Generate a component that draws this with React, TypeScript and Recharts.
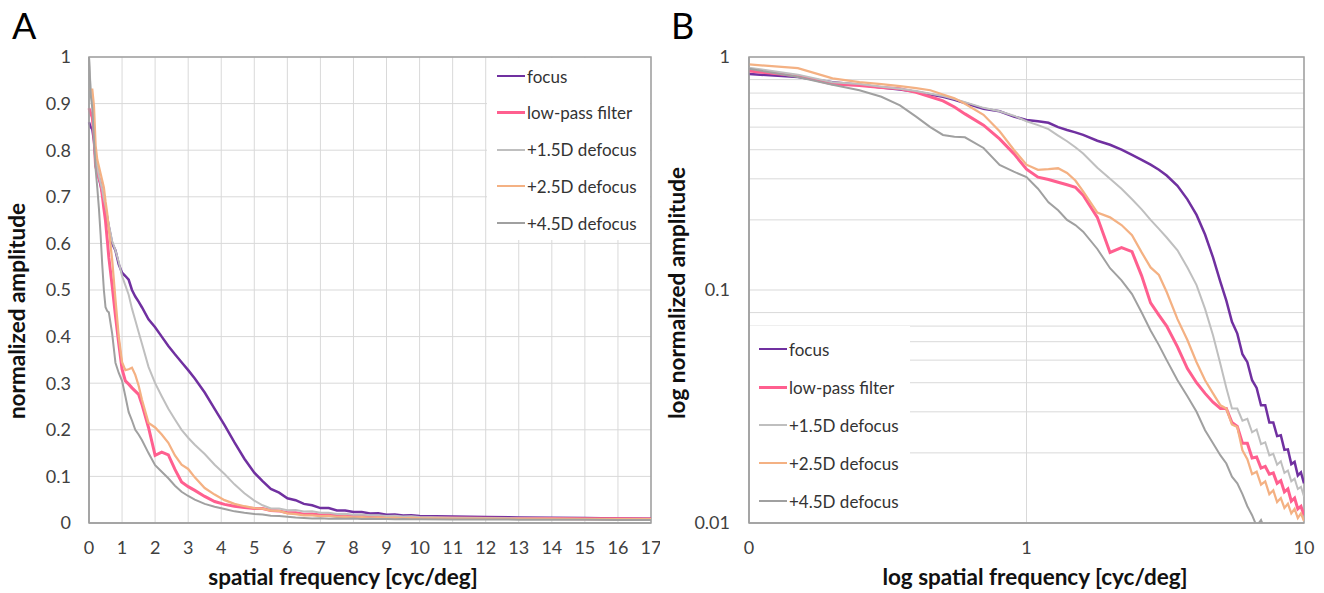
import {
  CartesianGrid,
  Legend,
  Line,
  LineChart,
  ReferenceArea,
  XAxis,
  YAxis,
} from "recharts";

const FONT = "Lato, 'Open Sans', sans-serif";
const TICK = "#404040";
const GRID = "#D9D9D9";
const BORDER = "#A0A0A0";

// spatial frequency [cyc/deg]
const FREQ = [
  0, 0.05, 0.1, 0.15, 0.2, 0.25, 0.3, 0.35, 0.4, 0.45, 0.5, 0.55, 0.6,
  0.7, 0.8, 0.9, 1,
  1.1, 1.2, 1.3, 1.4, 1.5, 1.6,
  1.8, 2, 2.2, 2.4, 2.6, 2.8, 3, 3.2,
  3.5, 3.8, 4.1, 4.4, 4.7, 5,
  5.25, 5.5, 5.75, 6, 6.25, 6.5, 6.75, 7, 7.25, 7.5, 7.75, 8, 8.25, 8.5, 8.75, 9, 9.25, 9.5, 9.75, 10,
  11, 12, 13, 14, 15, 16, 17,
];

const FOCUS = [
  0.86, 0.85, 0.845, 0.82, 0.78, 0.76, 0.74, 0.725, 0.71, 0.69, 0.675, 0.655, 0.635,
  0.6, 0.585, 0.555, 0.537,
  0.53, 0.522, 0.5, 0.486, 0.475, 0.463,
  0.437, 0.42, 0.4, 0.38, 0.362, 0.345, 0.328, 0.31,
  0.28, 0.245, 0.21, 0.173, 0.138, 0.108,
  0.09, 0.073, 0.065, 0.053, 0.049, 0.041, 0.038, 0.032, 0.032, 0.027, 0.027, 0.0236, 0.0238, 0.0206, 0.0207, 0.0179, 0.0183, 0.016, 0.0165, 0.0148,
  0.014, 0.0128, 0.012, 0.0112, 0.0105, 0.0098, 0.0092,
];

const LOW_PASS = [
  0.89, 0.88, 0.87, 0.83, 0.765, 0.755, 0.74, 0.73, 0.705, 0.675, 0.648, 0.61, 0.57,
  0.51, 0.445, 0.385, 0.33,
  0.305, 0.298, 0.29, 0.283, 0.276, 0.255,
  0.205, 0.145, 0.152, 0.146, 0.115, 0.088, 0.078, 0.07,
  0.057, 0.046, 0.04, 0.036, 0.033, 0.031,
  0.031, 0.027, 0.026, 0.022, 0.022, 0.019, 0.0192, 0.0172, 0.0175, 0.0162, 0.0164, 0.0148, 0.0152, 0.0136, 0.014, 0.0124, 0.0128, 0.0115, 0.0118, 0.0108,
  0.0105, 0.0101, 0.0098, 0.0095, 0.0092, 0.009, 0.0088,
];

const DEFOCUS_15 = [
  1.0, 0.93, 0.9, 0.84, 0.78, 0.765, 0.745, 0.73, 0.715, 0.695, 0.68, 0.66, 0.64,
  0.605, 0.585, 0.56, 0.53,
  0.51, 0.49, 0.46, 0.435, 0.41, 0.385,
  0.335, 0.3, 0.272, 0.245, 0.222, 0.2, 0.183, 0.168,
  0.148, 0.125, 0.105, 0.083, 0.064, 0.048,
  0.038, 0.031, 0.031, 0.0275, 0.028, 0.0245, 0.0252, 0.0218, 0.0222, 0.0195, 0.0198, 0.0178, 0.0184, 0.0164, 0.0168, 0.0151, 0.0155, 0.014, 0.0143, 0.013,
  0.0115, 0.0105, 0.0098, 0.0093, 0.0088, 0.0085, 0.0082,
];

const DEFOCUS_25 = [
  0.93, 0.93, 0.93, 0.895, 0.81, 0.78, 0.765, 0.75, 0.735, 0.72, 0.69, 0.665, 0.63,
  0.565, 0.48, 0.4, 0.345,
  0.328, 0.33, 0.333, 0.318, 0.295, 0.265,
  0.215, 0.205, 0.19, 0.172, 0.145, 0.125, 0.116, 0.098,
  0.075, 0.061, 0.049, 0.041, 0.036, 0.032,
  0.031, 0.0265, 0.0258, 0.0205, 0.0188, 0.0162, 0.0166, 0.0146, 0.0151, 0.0133, 0.0138, 0.0123, 0.0128, 0.0116, 0.0121, 0.011, 0.0115, 0.0105, 0.011, 0.0102,
  0.0095, 0.0092, 0.009, 0.0088, 0.0086, 0.0085, 0.0083,
];

const DEFOCUS_45 = [
  1.0, 0.92, 0.89, 0.82, 0.76, 0.72, 0.675, 0.62, 0.555, 0.5, 0.463, 0.455, 0.452,
  0.407, 0.344, 0.322, 0.305,
  0.272, 0.238, 0.22, 0.2, 0.19, 0.178,
  0.15, 0.124, 0.11, 0.096, 0.08, 0.067, 0.058, 0.05,
  0.041, 0.035, 0.03, 0.025, 0.022, 0.0195,
  0.018, 0.0158, 0.0148, 0.0133, 0.0118, 0.0108, 0.0097, 0.0103, 0.0093, 0.0099, 0.009, 0.0096, 0.0087, 0.0093, 0.0085, 0.0088, 0.0082, 0.0085, 0.008, 0.0081,
  0.0076, 0.0074, 0.0072, 0.007, 0.0068, 0.0067, 0.0065,
];

const SERIES = [
  { key: "focus", name: "focus", color: "#7030A0", width: 2.5, values: FOCUS },
  { key: "lowPass", name: "low-pass filter", color: "#FF5F8F", width: 3, values: LOW_PASS },
  { key: "d15", name: "+1.5D defocus", color: "#BFBFBF", width: 2, values: DEFOCUS_15 },
  { key: "d25", name: "+2.5D defocus", color: "#F4B183", width: 2.25, values: DEFOCUS_25 },
  { key: "d45", name: "+4.5D defocus", color: "#A0A0A0", width: 2, values: DEFOCUS_45 },
];

const LIN_X_TICKS = [0, 1, 2, 3, 4, 5, 6, 7, 8, 9, 10, 11, 12, 13, 14, 15, 16, 17];
const LIN_Y_TICKS = [0, 0.1, 0.2, 0.3, 0.4, 0.5, 0.6, 0.7, 0.8, 0.9, 1];
const LOG_X_TICKS = [0.1, 1, 10];
const LOG_Y_TICKS = [
  0.01, 0.02, 0.03, 0.04, 0.05, 0.06, 0.07, 0.08, 0.09,
  0.1, 0.2, 0.3, 0.4, 0.5, 0.6, 0.7, 0.8, 0.9, 1,
];
const LOG_Y_LABELS = [0.01, 0.1, 1];

const rows = FREQ.map((f, i) => {
  const row: Record<string, number> = { f };
  SERIES.forEach((s) => (row[s.key] = s.values[i]));
  return row;
});
const logRows = rows.filter((r) => r.f >= 0.1 && r.f <= 10);

const tick = { fill: TICK, fontSize: 18, fontFamily: FONT };

function legendBox(padLeft: number, firstRow: number, gap: number) {
  return () => (
    <div style={{ position: "relative", width: "100%", height: "100%", background: "#fff" }}>
      {SERIES.map((s, i) => (
        <div
          key={s.key}
          style={{
            position: "absolute",
            left: padLeft,
            top: firstRow + i * gap - 11,
            height: 22,
            display: "flex",
            alignItems: "center",
            whiteSpace: "nowrap",
            fontFamily: FONT,
            fontSize: 17,
            color: "#333",
          }}
        >
          <span
            style={{
              display: "inline-block",
              width: 28,
              borderTop: `${s.width}px solid ${s.color}`,
              marginRight: 2,
            }}
          />
          <span>{s.name}</span>
        </div>
      ))}
    </div>
  );
}

function lines() {
  return SERIES.map((s) => (
    <Line
      key={s.key}
      type="linear"
      dataKey={s.key}
      name={s.name}
      stroke={s.color}
      strokeWidth={s.width}
      dot={false}
      activeDot={false}
      isAnimationActive={false}
    />
  ));
}

export default function App() {
  return (
    <div style={{ position: "absolute", left: 0, top: 0, width: 1324, height: 593, background: "#fff" }}>
      <div style={{ position: "absolute", left: 0, top: 0 }}>
        <LineChart width={660} height={593} data={rows} margin={{ top: 57, right: 9, bottom: 0, left: 0 }}>
          <CartesianGrid stroke={GRID} />
          <XAxis
            dataKey="f"
            type="number"
            domain={[0, 17]}
            ticks={LIN_X_TICKS}
            height={70}
            tick={tick}
            tickSize={0}
            tickMargin={18}
            axisLine={{ stroke: BORDER, strokeWidth: 1.5 }}
          />
          <YAxis
            type="number"
            domain={[0, 1]}
            ticks={LIN_Y_TICKS}
            width={89}
            tick={tick}
            tickSize={0}
            tickMargin={18}
            axisLine={{ stroke: BORDER, strokeWidth: 1.5 }}
          />
          <ReferenceArea x1={0} x2={17} y1={0} y2={1} fill="none" stroke={BORDER} strokeWidth={1.5} />
          {lines()}
          <Legend
            layout="horizontal"
            align="center"
            verticalAlign="middle"
            content={legendBox(10, 18, 36.8)}
            wrapperStyle={{ left: 487, top: 58, width: 163, height: 182 }}
          />
        </LineChart>
      </div>
      <div style={{ position: "absolute", left: 660, top: 0 }}>
        <LineChart width={664} height={593} data={logRows} margin={{ top: 57, right: 20, bottom: 0, left: 0 }}>
          <CartesianGrid stroke={GRID} />
          <XAxis
            dataKey="f"
            type="number"
            scale="log"
            domain={[0.1, 10]}
            allowDataOverflow
            ticks={LOG_X_TICKS}
            tickFormatter={(v: number) => (v < 1 ? "0" : String(v))}
            height={70}
            tick={tick}
            tickSize={0}
            tickMargin={18}
            axisLine={{ stroke: BORDER, strokeWidth: 1.5 }}
          />
          <YAxis
            type="number"
            scale="log"
            domain={[0.01, 1]}
            allowDataOverflow
            ticks={LOG_Y_TICKS}
            tickFormatter={(v: number) => (LOG_Y_LABELS.includes(v) ? String(v) : "")}
            width={89}
            tick={tick}
            tickSize={0}
            tickMargin={19}
            axisLine={{ stroke: BORDER, strokeWidth: 1.5 }}
          />
          <ReferenceArea x1={0.1} x2={10} y1={0.01} y2={1} fill="none" stroke={BORDER} strokeWidth={1.5} />
          {lines()}
          <Legend
            layout="horizontal"
            align="center"
            verticalAlign="middle"
            content={legendBox(9, 23, 38)}
            wrapperStyle={{ left: 90, top: 326, width: 160, height: 196 }}
          />
        </LineChart>
      </div>
      <svg
        width={1324}
        height={593}
        style={{ position: "absolute", left: 0, top: 0, pointerEvents: "none" }}
        fontFamily={FONT}
      >
        <text x={12} y={39} fontSize={36} fill="#000">A</text>
        <text x={671} y={39} fontSize={36} fill="#000">B</text>
        <text x={343} y={585} fontSize={22.5} fontWeight="bold" textAnchor="middle" fill="#111">
          spatial frequency [cyc/deg]
        </text>
        <text
          transform="translate(25,311) rotate(-90)"
          fontSize={22.5}
          fontWeight="bold"
          textAnchor="middle"
          fill="#111"
        >
          normalized amplitude
        </text>
        <text x={1035} y={585} fontSize={22.5} fontWeight="bold" textAnchor="middle" fill="#111">
          log spatial frequency [cyc/deg]
        </text>
        <text
          transform="translate(685,293) rotate(-90)"
          fontSize={22.5}
          fontWeight="bold"
          textAnchor="middle"
          fill="#111"
        >
          log normalized amplitude
        </text>
      </svg>
    </div>
  );
}
